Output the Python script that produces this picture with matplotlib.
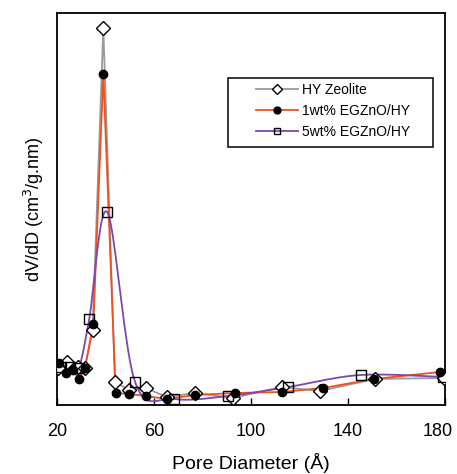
import numpy as np
import matplotlib
matplotlib.use("Agg")
from matplotlib import pyplot as plt
from matplotlib.patches import Rectangle
from matplotlib.transforms import ScaledTranslation

plt.rcParams['font.family'] = ['Liberation Sans', 'DejaVu Sans']

# pore diameter (A) and dV/dD values
hy_d = [20.5, 24, 28.7, 31.5, 34.7, 39.1, 43.9, 49.7, 56.6, 65.2, 76.9, 92.6, 112.6, 128.5, 151, 179.6]
hy_v = [0.037, 0.043, 0.038, 0.037, 0.075, 0.377, 0.023, 0.015, 0.017, 0.008, 0.012, 0.007, 0.018, 0.014, 0.026, 0.027]

zn1_d = [21, 23.7, 26.7, 29, 31.5, 35, 39.1, 44.2, 49.7, 56.6, 65.2, 76.9, 93.4, 112.9, 129.8, 150.8, 178]
zn1_v = [0.042, 0.032, 0.035, 0.026, 0.037, 0.081, 0.331, 0.012, 0.011, 0.009, 0.006, 0.010, 0.012, 0.013, 0.017, 0.026, 0.033]

zn5_d = [21.5, 25.5, 29, 33.3, 40.7, 52.2, 68.2, 90.6, 115.4, 145.2, 179.2]
zn5_v = [0.038, 0.038, 0.037, 0.086, 0.193, 0.023, 0.006, 0.009, 0.018, 0.030, 0.028]

x_ticks = [20, 60, 100, 140, 180]


def smooth(x, y, n=20):
    # Catmull-Rom path through the points, like a spreadsheet "smoothed line"
    p = np.column_stack([x, y]).astype(float)
    p = np.vstack([p[0], p, p[-1]])
    out = []
    for i in range(1, len(p) - 2):
        p0, p1, p2, p3 = p[i - 1], p[i], p[i + 1], p[i + 2]
        t = np.linspace(0, 1, n, endpoint=False)[:, None]
        seg = 0.5 * ((2 * p1) + (-p0 + p2) * t + (2 * p0 - 5 * p1 + 4 * p2 - p3) * t ** 2
                     + (-p0 + 3 * p1 - 3 * p2 + p3) * t ** 3)
        out.append(seg)
    out.append(p[-2][None, :])
    out = np.vstack(out)
    return out[:, 0], out[:, 1]


fig = plt.figure(figsize=(4.57, 4.74), dpi=100)
ax = fig.add_axes([0.1247, 0.1456, 0.849, 0.827])

series = [
    (hy_d, hy_v, "#9a9a9a", "D", 7, "white", "HY Zeolite", False),
    (zn1_d, zn1_v, "#f0501e", "o", 6, "black", "1wt% EGZnO/HY", False),
    (zn5_d, zn5_v, "#7a48b0", "s", 7.5, "none", "5wt% EGZnO/HY", True),
]

handles = []
for d, v, col, mk, ms, fc, lab, sm in series:
    if sm:
        sx, sy = smooth(d, v)
    else:
        sx, sy = d, v
    ax.plot(sx, sy, color=col, lw=1.3, zorder=2)
    ax.plot(d, v, ls="none", marker=mk, ms=ms, mfc=fc, mec="black", mew=1.0, zorder=3)
    h, = ax.plot([], [], color=col, lw=1.3, marker=mk, ms=5,
                 mfc=fc, mec="black", mew=1.0, label=lab)
    handles.append(h)

ax.set_xlim(20, 180)
ax.set_ylim(0, 0.392)
ax.set_xticks(x_ticks)
ax.set_xticklabels([str(t) for t in x_ticks], fontsize=13)
ax.tick_params(axis="x", direction="in", length=5, pad=13, width=1)
ax.set_yticks([])
for s in ax.spines.values():
    s.set_linewidth(1.3)
last = ax.get_xticklabels()[-1]
last.set_transform(last.get_transform() + ScaledTranslation(-7 / 100, 0, fig.dpi_scale_trans))

ax.set_xlabel("Pore Diameter (Å)", fontsize=14, labelpad=9)
ax.set_ylabel("dV/dD (cm$^3$/g.nm)", fontsize=13, labelpad=8)

# legend box drawn separately so the inner padding can match
ax.add_patch(Rectangle((0.441, 0.658), 0.528, 0.176, transform=ax.transAxes,
                       fill=False, edgecolor="black", lw=1.1, zorder=5))
leg = ax.legend(handles=handles, loc="upper left", bbox_to_anchor=(0.484, 0.85),
                fontsize=10, frameon=False, handlelength=3.0, handletextpad=0.35,
                borderpad=0.3, labelspacing=0.5)

fig.savefig("out.png", dpi=100)
